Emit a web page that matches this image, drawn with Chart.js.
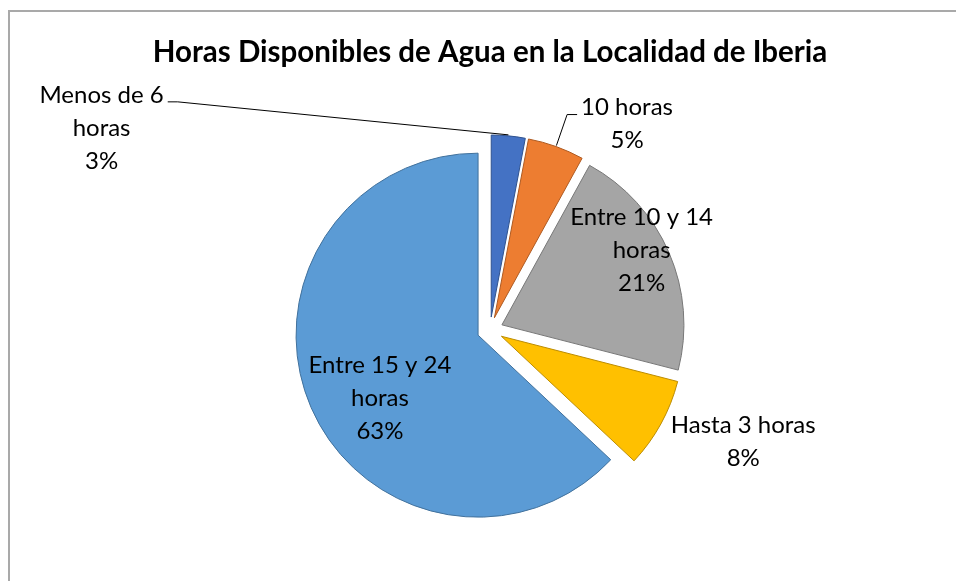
<!DOCTYPE html>
<html>
<head>
<meta charset="utf-8">
<script src="https://cdn.jsdelivr.net/npm/chart.js@4.4.1/dist/chart.umd.min.js"></script>
<style>
    html, body { margin: 0; padding: 0; background: #fff; overflow: hidden; }
    #frame { position: absolute; left: 8px; top: 10px; width: 1200px; height: 900px; border: 2px solid #a9a9a9; box-sizing: border-box; }
    #wrap { position: absolute; left: 0; top: 0; width: 956px; height: 581px; }
</style>
</head>
<body>
<div id="frame"></div>
<div id="wrap"><canvas id="pie" width="956" height="581"></canvas></div>
<script>
// clockwise from 12 o'clock, like the excel chart
const categories = ['Menos de 6 horas', '10 horas', 'Entre 10 y 14 horas', 'Hasta 3 horas', 'Entre 15 y 24 horas'];
const shares = [3, 5, 21, 8, 63];
const labelLines = [['Menos de 6', 'horas'], ['10 horas'], ['Entre 10 y 14', 'horas'], ['Hasta 3 horas'], ['Entre 15 y 24', 'horas']];

const fills = ['#4472c4', '#ed7d31', '#a5a5a5', '#ffc000', '#5b9bd5'];
const edges = ['#2f528f', '#ae5a21', '#787878', '#bc8c00', '#41719c'];

const explode = 13;
const labelFont = '24px Lato';
const lineH = 33;

// where each label sits: angle shift (deg) from slice middle, distance as part of radius
// lead: which side of the text the leader line touches
const labelSpots = [
    { da: -69.5, r: 2.38, lead: 'right' },
    { da: 14.6, r: 1.29, lead: 'left' },
    { da: -4.7, r: 0.87 },
    { da: -5.2, r: 1.45 },
    { da: -9.2, r: 0.64 }
];

const explodePlugin = {
    id: 'explode',
    beforeDatasetDraw(chart, args) {
        const ctx = chart.ctx;
        args.meta.data.forEach(arc => {
            const mid = (arc.startAngle + arc.endAngle) / 2;
            ctx.save();
            ctx.translate(Math.cos(mid) * explode, Math.sin(mid) * explode);
            arc.draw(ctx);
            ctx.restore();
        });
        return false;
    }
};

const labelPlugin = {
    id: 'sliceLabels',
    afterDatasetsDraw(chart) {
        const ctx = chart.ctx;
        const meta = chart.getDatasetMeta(0);
        const total = shares.reduce((s, v) => s + v, 0);
        ctx.save();
        ctx.font = labelFont;
        ctx.fillStyle = '#000';
        ctx.textAlign = 'center';
        ctx.textBaseline = 'middle';
        meta.data.forEach((arc, i) => {
            const mid = (arc.startAngle + arc.endAngle) / 2;
            const cx = arc.x + Math.cos(mid) * explode;
            const cy = arc.y + Math.sin(mid) * explode;
            const spot = labelSpots[i];
            const a = mid + spot.da * Math.PI / 180;
            const lx = cx + Math.cos(a) * arc.outerRadius * spot.r;
            const ly = cy + Math.sin(a) * arc.outerRadius * spot.r;

            const lines = labelLines[i].concat([Math.round(shares[i] / total * 100) + '%']);
            const top = ly - (lines.length - 1) * lineH / 2;
            lines.forEach((t, k) => ctx.fillText(t, lx, top + k * lineH));

            if (spot.lead) {
                const w = ctx.measureText(lines[0]).width;
                const dir = spot.lead === 'right' ? 1 : -1;
                const edgeX = lx + dir * w / 2;
                const yy = top + 7;
                const sx = cx + Math.cos(mid) * (arc.outerRadius + 1);
                const sy = cy + Math.sin(mid) * (arc.outerRadius + 1);
                ctx.beginPath();
                ctx.moveTo(sx, sy);
                ctx.lineTo(edgeX + dir * 14, yy);
                ctx.lineTo(edgeX + dir * 4, yy);
                ctx.strokeStyle = '#000';
                ctx.lineWidth = 1;
                ctx.stroke();
            }
        });
        ctx.restore();
    }
};

const chart = new Chart(document.getElementById('pie'), {
    type: 'pie',
    data: {
        labels: categories,
        datasets: [{
            data: shares,
            backgroundColor: fills,
            borderColor: edges,
            borderWidth: 1,
            radius: 182
        }]
    },
    options: {
        responsive: false,
        devicePixelRatio: 1,
        animation: false,
        layout: {
            padding: { left: 24, right: 0, top: 0, bottom: 1 }
        },
        plugins: {
            legend: { display: false },
            tooltip: { enabled: false },
            title: {
                display: true,
                text: 'Horas Disponibles de Agua en la Localidad de Iberia',
                color: '#000',
                font: { family: 'Lato', size: 29.5, weight: 'bold' },
                padding: { top: 34.3, bottom: 10.3 }
            }
        }
    },
    plugins: [explodePlugin, labelPlugin]
});
</script>
</body>
</html>
